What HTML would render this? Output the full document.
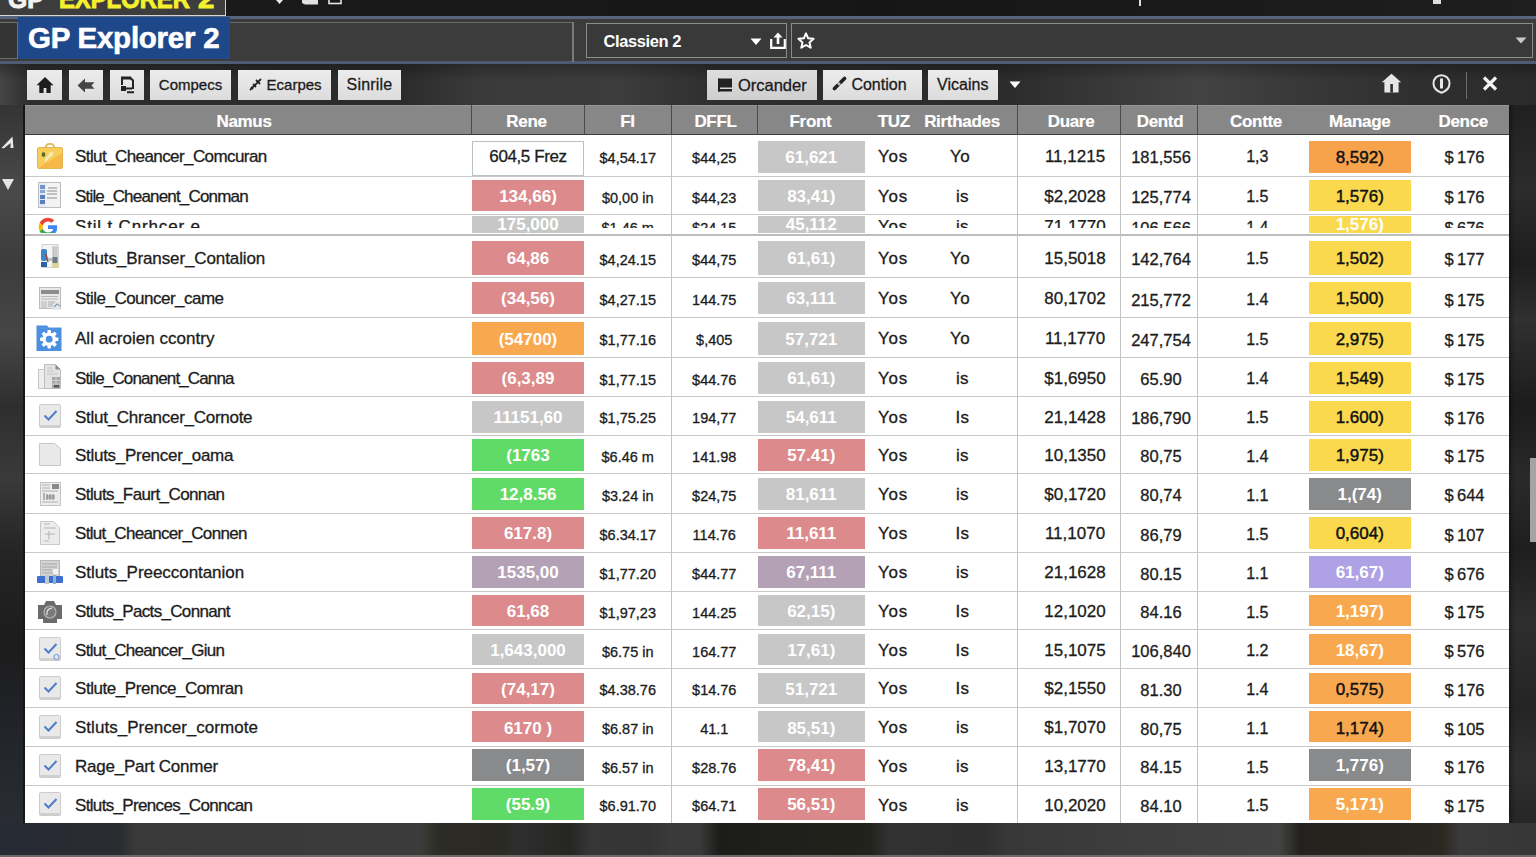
<!DOCTYPE html>
<html><head><meta charset="utf-8"><title>GP Explorer 2</title>
<style>
*{margin:0;padding:0;box-sizing:border-box}
html,body{width:1536px;height:857px;overflow:hidden;background:#262626;font-family:"Liberation Sans",sans-serif}
.a{position:absolute}
.tb{position:absolute;top:69.5px;height:30px;background:linear-gradient(#ececec,#dcdcdc);color:#1b1b1b;font-size:16px;line-height:30px;text-align:center;white-space:nowrap;-webkit-text-stroke:0.3px #1b1b1b}
.hd{position:absolute;left:25px;top:104.5px;width:1484px;height:30px;background:#878787;border-top:1px solid #969696;border-bottom:1px solid #3a3a3a}
.hc{position:absolute;height:22px;line-height:22px;color:#fff;font-weight:bold;font-size:17px;letter-spacing:-0.3px;-webkit-text-stroke:0.2px #fff;text-align:center;white-space:nowrap}
.vl{position:absolute;top:104.5px;width:1px;height:30px;background:#4a4a4a}
.rl{position:absolute;left:25px;width:1484px;height:1.2px;background:#c8c8c8}
.bl{position:absolute;width:1.3px;background:#c2c2c2}
.t{position:absolute;height:22px;line-height:22px;color:#1c1c1c;white-space:nowrap;text-align:center;-webkit-text-stroke:0.3px #1c1c1c}
.nm{font-size:17px;letter-spacing:-0.6px;text-align:left}
.blk{position:absolute;font-size:17px;font-weight:bold;color:#fff;text-align:center;white-space:nowrap}
</style></head><body>

<div class="a" style="left:0;top:0;width:1536px;height:857px;background:radial-gradient(ellipse 40px 90px at 8px 170px,rgba(120,120,120,.35),rgba(0,0,0,0)),radial-gradient(ellipse 50px 120px at 10px 330px,rgba(110,110,110,.35),rgba(0,0,0,0)),radial-gradient(ellipse 30px 140px at 1525px 300px,rgba(110,110,110,.3),rgba(0,0,0,0)),radial-gradient(ellipse 140px 30px at 330px 845px,rgba(60,60,40,.5),rgba(0,0,0,0)),radial-gradient(ellipse 120px 30px at 1100px 845px,rgba(90,90,90,.4),rgba(0,0,0,0)),linear-gradient(#202020,#2c2c2c)"></div>
<div class="a" style="left:0;top:822px;width:1536px;height:35px;background:linear-gradient(90deg,#262a34 0px,#2a2c30 120px,#393939 135px,#3b3b3b 420px,#2c2c24 440px,#2a2a22 500px,#2e2e2e 520px,#252522 570px,#363636 590px,#343434 650px,#3a3a3a 670px,#3a3a3a 700px,#1c1c1a 720px,#22221c 870px,#333 890px,#2e2e2e 980px,#383838 1010px,#3e3e3e 1150px,#424242 1280px,#24221e 1300px,#2a2620 1440px,#3a3a3a 1460px,#363636 1536px)"></div>
<div class="a" style="left:0;top:855px;width:1536px;height:2px;background:#6a6a6a"></div>
<div class="a" style="left:1509px;top:105px;width:27px;height:718px;background:linear-gradient(90deg,rgba(0,0,0,.35),rgba(0,0,0,0) 6px),linear-gradient(#202020,#2c2c2c 12%,#1e1e1e 22%,#303030 30%,#1c1c1c 42%,#2a2a2a 52%,#1e1e1e 62%,#2e2e2e 72%,#242424 84%,#303030 92%,#262626)"></div>
<div class="a" style="left:1530px;top:458px;width:6px;height:84px;background:#a4a4a4"></div>
<div class="a" style="left:0;top:105px;width:25px;height:718px;background:linear-gradient(#343434,#4a4a4a 12%,#3c3c3c 22%,#464646 32%,#2e2e2e 42%,#3a3a3a 52%,#252525 62%,#1c1c1c 75%,#24262e 90%,#2a2c34)"></div>
<svg class="a" style="left:0;top:135px" width="16" height="15" viewBox="0 0 16 15"><path d="M1.5 13 L12.5 1.5 L13.5 13 L10.5 13 L10.6 8 L4 13.3 Z" fill="#e8e8e8"/></svg>
<div class="a" style="left:23px;top:105px;width:2px;height:718px;background:#161616"></div>
<svg class="a" style="left:2px;top:179px" width="12" height="11" viewBox="0 0 12 11"><path d="M0 0h12l-6 11z" fill="#e4e4e4"/></svg>
<div class="a" style="left:226px;top:0;width:1310px;height:16px;background:linear-gradient(90deg,#1a1a1a,#161616 50%,#1e1e1e)"></div>
<div class="a" style="left:0;top:0;width:226px;height:16px;background:#3d3d3d;border-right:1.5px solid #d0d0d0;border-bottom:1.5px solid #d6d6d6;overflow:hidden"><div class="a" style="left:8px;top:-16.5px;font-size:26px;font-weight:bold;color:#f2f2f2;-webkit-text-stroke:1px #f2f2f2;transform:scaleX(0.95);transform-origin:0 0">GP</div><div class="a" style="left:59px;top:-16.5px;font-size:26px;font-weight:bold;color:#f4f02c;-webkit-text-stroke:1px #f4f02c;transform:scaleX(0.915);transform-origin:0 0;white-space:nowrap">EXPLORER</div><div class="a" style="left:197.5px;top:-16.5px;font-size:26px;font-weight:bold;color:#f4f02c;-webkit-text-stroke:1px #f4f02c;transform:scaleX(1.12);transform-origin:0 0;white-space:nowrap">2</div></div>
<svg class="a" style="left:272px;top:0" width="72" height="8"><path d="M4 0 l3.5 4 l3.5 -4" fill="#e6e6e6"/><path d="M30 0h16v4.5h-13l-3-1.5z" fill="#e0e0e0"/><rect x="57" y="-1" width="12" height="4.5" fill="none" stroke="#e6e6e6" stroke-width="1.6"/></svg>
<div class="a" style="left:1139px;top:0;width:2px;height:6px;background:#ddd"></div>
<div class="a" style="left:1433px;top:0;width:8px;height:4px;background:#ddd"></div>
<div class="a" style="left:0;top:16px;width:1536px;height:48px;background:#3c3c3c;border-top:3px solid #56657b;border-bottom:3px solid #4d5c73"></div>
<div class="a" style="left:230px;top:21.5px;width:343px;height:1.5px;background:#6a6a6a"></div>
<div class="a" style="left:572px;top:21.5px;width:1.5px;height:40px;background:#7a7a7a"></div>
<div class="a" style="left:0;top:22px;width:18px;height:37px;border:1.5px solid #6e6e6e;border-left:none;background:#333"></div>
<div class="a" style="left:18px;top:17px;width:212px;height:42px;background:#1e4889"></div>
<div class="a" style="left:28px;top:16.750249999999998px;height:42px;line-height:42px;font-size:29.5px;font-weight:bold;color:#fff;letter-spacing:-0.25px;-webkit-text-stroke:0.6px #fff;white-space:nowrap">GP Explorer 2</div>
<div class="a" style="left:585.5px;top:23px;width:201px;height:35px;border:1.5px solid #8c8c8c;background:#393939"></div>
<div class="a" style="left:603.5px;top:26.246750000000002px;height:30px;line-height:30px;font-size:16.5px;font-weight:bold;color:#fff;letter-spacing:-0.4px">Classien 2</div>
<svg class="a" style="left:750px;top:38px" width="12" height="8"><path d="M0.5 0.5h11l-5.5 6.5z" fill="#fff"/></svg>
<svg class="a" style="left:769px;top:31px" width="18" height="18" viewBox="0 0 18 18"><path d="M2.2 8v8.8h13.6V8" fill="none" stroke="#fff" stroke-width="2.2"/><path d="M9 13V4" stroke="#fff" stroke-width="2.6"/><path d="M4.5 6.5L9 1.5l4.5 5z" fill="#fff"/></svg>
<div class="a" style="left:790.5px;top:23px;width:742px;height:35px;border:1.5px solid #8c8c8c;background:#393939"></div>
<svg class="a" style="left:797px;top:32px" width="18" height="17" viewBox="0 0 18 17"><path d="M9 1.3l2.2 5 5.4.5-4.1 3.6 1.2 5.3L9 13 4.3 15.7l1.2-5.3L1.4 6.8l5.4-.5z" fill="none" stroke="#fff" stroke-width="2" stroke-linejoin="round"/></svg>
<svg class="a" style="left:1515px;top:37px" width="12" height="8"><path d="M0.5 0.5h11l-5.5 6z" fill="#c8c8c8"/></svg>
<div class="a" style="left:0;top:64px;width:1536px;height:41px;background:linear-gradient(rgba(0,0,0,.25),rgba(0,0,0,0) 40%),linear-gradient(90deg,#454545 0,#2e2e2e 30px,#2b2b2b 400px,#3a3a3a 480px,#3c3c3c 620px,#2e2e2e 720px,#2b2b2b 1000px,#3a3a3a 1120px,#434343 1200px,#383838 1300px,#2f2f2f 1420px,#2b2b2b 1536px)"></div>
<div class="tb" style="left:27px;width:35px;"><svg class="a" style="left:9px;top:6px" width="18" height="18" viewBox="0 0 18 18"><path d="M9 1L0.5 9.2h2.8V17h4.3v-5h2.8v5h4.3V9.2h2.8z" fill="#1e1e1e"/></svg></div>
<div class="tb" style="left:69px;width:34px;"><svg class="a" style="left:8px;top:8px" width="18" height="15" viewBox="0 0 18 15"><path d="M0.5 7.5L8 0.5v3.8h9.5l-3 3.2 3 3.2H8v3.8z" fill="#454545"/></svg></div>
<div class="tb" style="left:110px;width:33.5px;"><svg class="a" style="left:10px;top:6px" width="15" height="18" viewBox="0 0 15 18"><path d="M2 9V2h8.5l2.5 2.5V13" fill="none" stroke="#222" stroke-width="2"/><path d="M1 2h10" stroke="#222" stroke-width="3"/><rect x="1" y="10" width="5" height="5" fill="#222"/><path d="M6 12.5h6M7 16.3h7" stroke="#222" stroke-width="2"/></svg></div>
<div class="tb" style="left:150px;width:81px;font-size:15px">Compecs</div>
<div class="tb" style="left:238px;width:93px;font-size:15px;padding-left:2px"><svg style="vertical-align:-1px" width="13" height="13" viewBox="0 0 13 13"><path d="M1 12L12 1M4 6l3 3M7 2l4 4M2 9l2 2" stroke="#222" stroke-width="1.8"/></svg>&nbsp;Ecarpes</div>
<div class="tb" style="left:338px;width:63px;letter-spacing:0.2px">Sinrile</div>
<div class="tb" style="left:707px;width:110px;background:linear-gradient(#dedede,#cfcfcf);font-size:16.5px"><svg style="vertical-align:-1px" width="16" height="14" viewBox="0 0 16 14"><rect x="2" y="0.5" width="13" height="9" fill="#222"/><rect x="1" y="11" width="14" height="2.5" fill="#222"/><rect x="1" y="0.5" width="2" height="13" fill="#222"/></svg>&nbsp;Orcander</div>
<div class="tb" style="left:823px;width:98.5px;padding-right:6px"><svg style="vertical-align:-1px" width="15" height="15" viewBox="0 0 15 15"><path d="M2.5 12.5l3.2-3.2" stroke="#222" stroke-width="3.6" stroke-linecap="round"/><path d="M8.5 6.5l4-4" stroke="#222" stroke-width="3.6" stroke-linecap="round"/><path d="M6 9l2.2-2.2" stroke="#bbb" stroke-width="1.5"/></svg>&nbsp;Contion</div>
<div class="tb" style="left:928px;width:69.5px;">Vicains</div>
<svg class="a" style="left:1009px;top:81px" width="12" height="8"><path d="M0.5 0.5h11l-5.5 6.5z" fill="#fff"/></svg>
<svg class="a" style="left:1381px;top:73px" width="21" height="20" viewBox="0 0 21 20"><path d="M10.5 0.8L0.8 9.3h2.6V19.5h14.2V9.3h2.6z" fill="#e6e6e6"/><rect x="9.3" y="11" width="2.6" height="8.5" fill="#2e2e2e"/></svg>
<svg class="a" style="left:1432px;top:74px" width="19" height="20" viewBox="0 0 19 20"><path d="M9.5 1.2 C14 1.2 17.5 4.7 17.5 9.5 C17.5 14 14.5 17 9.5 18.8 C4.5 17 1.5 14 1.5 9.5 C1.5 4.7 5 1.2 9.5 1.2z" fill="none" stroke="#e6e6e6" stroke-width="2"/><rect x="8" y="4.5" width="3" height="10" fill="#e6e6e6"/></svg>
<div class="a" style="left:1465.5px;top:72px;width:1.5px;height:27px;background:#6e6e6e"></div>
<svg class="a" style="left:1482px;top:76px" width="16" height="15" viewBox="0 0 16 15"><path d="M2 1.5l12 12M14 1.5L2 13.5" stroke="#f2f2f2" stroke-width="3.2"/></svg>
<div class="hd"></div>
<div class="hc" style="left:184px;width:120px;top:110.5815px">Namus</div>
<div class="hc" style="left:466.5px;width:120px;top:110.5815px">Rene</div>
<div class="hc" style="left:567.5px;width:120px;top:110.5815px">FI</div>
<div class="hc" style="left:655.5px;width:120px;top:110.5815px">DFFL</div>
<div class="hc" style="left:750.5px;width:120px;top:110.5815px">Front</div>
<div class="hc" style="left:833.8px;width:120px;top:110.5815px">TUZ</div>
<div class="hc" style="left:902px;width:120px;top:110.5815px">Rirthades</div>
<div class="hc" style="left:1011px;width:120px;top:110.5815px">Duare</div>
<div class="hc" style="left:1100px;width:120px;top:110.5815px">Dentd</div>
<div class="hc" style="left:1196px;width:120px;top:110.5815px">Contte</div>
<div class="hc" style="left:1299.7px;width:120px;top:110.5815px">Manage</div>
<div class="hc" style="left:1403.2px;width:120px;top:110.5815px">Dence</div>
<div class="vl" style="left:471.0px"></div>
<div class="vl" style="left:584.0px"></div>
<div class="vl" style="left:671.0px"></div>
<div class="vl" style="left:756.5px"></div>
<div class="vl" style="left:1017.0px"></div>
<div class="vl" style="left:1120.0px"></div>
<div class="vl" style="left:1197.0px"></div>
<div class="a" style="left:25px;top:135px;width:1484px;height:688px;background:#fff"></div>
<div class="rl" style="top:175.5px"></div>
<div class="rl" style="top:213.5px"></div>
<div class="rl" style="top:233.5px;height:2px;background:#bdbdbd"></div>
<div class="rl" style="top:277.2px"></div>
<div class="rl" style="top:317.2px"></div>
<div class="rl" style="top:357.0px"></div>
<div class="rl" style="top:395.8px"></div>
<div class="rl" style="top:434.7px"></div>
<div class="rl" style="top:473.2px"></div>
<div class="rl" style="top:512.8px"></div>
<div class="rl" style="top:551.6px"></div>
<div class="rl" style="top:590.8px"></div>
<div class="rl" style="top:629.2px"></div>
<div class="rl" style="top:667.7px"></div>
<div class="rl" style="top:706.7px"></div>
<div class="rl" style="top:745.5px"></div>
<div class="rl" style="top:784.5px"></div>
<div class="bl" style="left:671.0px;top:135px;height:688px"></div>
<div class="bl" style="left:1017.0px;top:135px;height:688px"></div>
<div class="bl" style="left:1120.0px;top:135px;height:688px"></div>
<div class="bl" style="left:1197.0px;top:135px;height:688px"></div>
<div class="a" style="left:35.5px;top:141.25px;width:28px;height:28px"><svg width="28" height="28" viewBox="0 0 28 28"><g transform="translate(0 1)"><path d="M9.5 6.5 Q9.5 1.8 14 1.8 Q18.5 1.8 18.5 6.5" fill="none" stroke="#e0bc5a" stroke-width="1.8"/><rect x="1.5" y="5.5" width="25" height="21" rx="1.5" fill="#f8cd5c" stroke="#e2b452" stroke-width="1"/><path d="M2 26 L26 11 V26 Z" fill="#f5b849"/><ellipse cx="7.5" cy="12.5" rx="1.8" ry="2.6" fill="#5d6b2e"/><path d="M9 19 L17 10 M13 11 l3 3 M10 15 l1.5 1" stroke="#f0eebb" stroke-width="2"/></g></svg></div>
<div class="t nm" style="left:75px;width:385px;top:146.03px;font-size:17px;letter-spacing:-0.582px">Stlut_Cheancer_Comcuran</div>
<div class="t" style="left:584.5px;width:86.5px;top:146.86px;font-size:14.5px;">$4,54.17</div>
<div class="t" style="left:671.5px;width:85.5px;top:146.86px;font-size:14.5px;">$44,25</div>
<div class="t" style="left:865px;width:56px;top:146.03px;font-size:17px;letter-spacing:0.8px">Yos</div>
<div class="t" style="left:922.5px;width:75.0px;top:146.03px;font-size:17px;letter-spacing:0.3px">Yo</div>
<div class="t" style="left:1020px;width:110px;top:146.03px;font-size:17px;">11,1215</div>
<div class="t" style="left:1122.5px;width:77.0px;top:146.20px;font-size:16.5px;">181,556</div>
<div class="t" style="left:1197.5px;width:119.5px;top:146.36px;font-size:16px;">1,3</div>
<div class="t" style="left:1411px;width:107px;top:146.20px;font-size:16.5px;">$&#8201;176</div>
<div class="a" style="left:472px;top:140.5px;width:112px;height:35.5px;border:1px solid #b7c3c7;background:#fff"></div>
<div class="t" style="left:472px;width:112px;top:146.03px;font-size:17px;letter-spacing:-0.4px">604,5 Frez</div>
<div class="blk" style="left:758px;top:141px;width:106.5px;height:31.50px;background:#c7c7c7;color:#fff;line-height:31.50px;overflow:hidden;"><span style="position:relative;top:1.2px">61,621</span></div>
<div class="blk" style="left:1308.5px;top:141px;width:102.5px;height:31.50px;background:#f6a34c;color:#111;line-height:31.50px;overflow:hidden;font-weight:normal;-webkit-text-stroke:0.45px #111;"><span style="position:relative;top:1.2px">8,592)</span></div>
<div class="a" style="left:35.5px;top:181.00px;width:28px;height:28px"><svg width="28" height="28" viewBox="0 0 28 28"><rect x="2.5" y="1.5" width="22" height="25" fill="#f3f3f3" stroke="#bdbdbd"/><rect x="3.5" y="2.5" width="6" height="23" fill="#dde8f4"/><rect x="4" y="4" width="5" height="4" fill="#6f97cc"/><rect x="4" y="9" width="5" height="3" fill="#8aa8d4"/><rect x="4" y="14" width="5" height="4" fill="#5a82bf"/><rect x="4" y="19" width="5" height="4" fill="#5a82bf"/><path d="M12 7h9M11 10h10M11 13h10M11 17h10" stroke="#8e8e8e" stroke-width="1.2"/></svg></div>
<div class="t nm" style="left:75px;width:385px;top:185.78px;font-size:17px;letter-spacing:-0.815px">Stile_Cheanent_Conman</div>
<div class="t" style="left:584.5px;width:86.5px;top:186.61px;font-size:14.5px;">$0,00 in</div>
<div class="t" style="left:671.5px;width:85.5px;top:186.61px;font-size:14.5px;">$44,23</div>
<div class="t" style="left:865px;width:56px;top:185.78px;font-size:17px;letter-spacing:0.8px">Yos</div>
<div class="t" style="left:925px;width:75px;top:185.78px;font-size:17px;letter-spacing:0.3px">is</div>
<div class="t" style="left:1020px;width:110px;top:185.78px;font-size:17px;">$2,2028</div>
<div class="t" style="left:1122.5px;width:77.0px;top:185.95px;font-size:16.5px;">125,774</div>
<div class="t" style="left:1197.5px;width:119.5px;top:186.11px;font-size:16px;">1.5</div>
<div class="t" style="left:1411px;width:107px;top:185.95px;font-size:16.5px;">$&#8201;176</div>
<div class="blk" style="left:472px;top:179.6px;width:112px;height:31.50px;background:#dc8a8c;color:#fff;line-height:31.50px;overflow:hidden;"><span style="position:relative;top:1.2px">134,66)</span></div>
<div class="blk" style="left:758px;top:179.6px;width:106.5px;height:31.50px;background:#c7c7c7;color:#fff;line-height:31.50px;overflow:hidden;"><span style="position:relative;top:1.2px">83,41)</span></div>
<div class="blk" style="left:1308.5px;top:179.6px;width:102.5px;height:31.50px;background:#fad94e;color:#111;line-height:31.50px;overflow:hidden;font-weight:normal;-webkit-text-stroke:0.45px #111;"><span style="position:relative;top:1.2px">1,576)</span></div>
<div class="a" style="left:0;top:220px;width:1536px;height:7.5px;overflow:hidden"><div class="a" style="left:0;top:-220px;width:1536px;height:300px">
<div class="t nm" style="left:75px;width:385px;top:216.38px;font-size:17px;letter-spacing:0.833px">Stil t Cnrhcer e</div>
<div class="t" style="left:584.5px;width:86.5px;top:217.21px;font-size:14.5px;">$1.46 m</div>
<div class="t" style="left:671.5px;width:85.5px;top:217.21px;font-size:14.5px;">$24.15</div>
<div class="t" style="left:865px;width:56px;top:216.38px;font-size:17px;letter-spacing:0.8px">Yos</div>
<div class="t" style="left:925px;width:75px;top:216.38px;font-size:17px;letter-spacing:0.3px">is</div>
<div class="t" style="left:1020px;width:110px;top:216.38px;font-size:17px;">71,1770</div>
<div class="t" style="left:1122.5px;width:77.0px;top:216.55px;font-size:16.5px;">106,566</div>
<div class="t" style="left:1197.5px;width:119.5px;top:216.71px;font-size:16px;">1.4</div>
<div class="t" style="left:1411px;width:107px;top:216.55px;font-size:16.5px;">$&#8201;676</div>
</div></div>
<div class="a" style="left:37px;top:216px;width:24px;height:16.5px;overflow:hidden"><svg width="22" height="22" viewBox="0 0 24 24"><path d="M22 12.2c0-.8-.1-1.4-.2-2.1H12v4h5.6a4.8 4.8 0 0 1-2.1 3.2v2.6h3.4A10 10 0 0 0 22 12.2z" fill="#4285f4"/><path d="M12 22c2.7 0 5-.9 6.9-2.5l-3.4-2.6c-.9.6-2.1 1-3.5 1-2.6 0-4.8-1.8-5.6-4.1H3v2.7A10 10 0 0 0 12 22z" fill="#34a853"/><path d="M6.4 13.8a6 6 0 0 1 0-3.8V7.3H3a10 10 0 0 0 0 9.2l3.4-2.7z" fill="#fbbc05"/><path d="M12 6c1.5 0 2.8.5 3.8 1.5l2.9-2.9A10 10 0 0 0 3 7.3L6.4 10c.8-2.3 3-4 5.6-4z" fill="#ea4335"/></svg></div>
<div class="blk" style="left:472px;top:216.2px;width:112px;height:16.80px;background:#c7c7c7;color:#fff;line-height:16.80px;overflow:hidden;"><span style="position:relative;top:1.2px">175,000</span></div>
<div class="blk" style="left:758px;top:216.2px;width:106.5px;height:16.80px;background:#c7c7c7;color:#fff;line-height:16.80px;overflow:hidden;"><span style="position:relative;top:1.2px">45,112</span></div>
<div class="blk" style="left:1308.5px;top:216.2px;width:102.5px;height:16.80px;background:#fad94e;color:#fff;line-height:16.80px;overflow:hidden;"><span style="position:relative;top:1.2px">1,576)</span></div>
<div class="a" style="left:35.5px;top:242.10px;width:28px;height:28px"><svg width="28" height="28" viewBox="0 0 28 28"><rect x="6" y="2.5" width="16" height="23" fill="#f4f4f4" stroke="#cfcfcf"/><rect x="16" y="4" width="7" height="22" fill="#d6d6d6"/><path d="M17.5 5v10M20 5v10" stroke="#bbb"/><rect x="5" y="7" width="6" height="12" rx="2" fill="#3f86c8"/><path d="M10 12 L12 20" stroke="#9b4a3a" stroke-width="1.5"/><rect x="5" y="20" width="6" height="5" fill="#2f5ea8"/><rect x="12" y="16" width="4" height="3" fill="#bdbdbd"/><rect x="16.5" y="15" width="5" height="6" fill="#6d7a82"/><rect x="16" y="21" width="7" height="5" fill="#d8d4a0"/></svg></div>
<div class="t nm" style="left:75px;width:385px;top:248.08px;font-size:17px;letter-spacing:-0.109px">Stluts_Branser_Contalion</div>
<div class="t" style="left:584.5px;width:86.5px;top:248.91px;font-size:14.5px;">$4,24.15</div>
<div class="t" style="left:671.5px;width:85.5px;top:248.91px;font-size:14.5px;">$44,75</div>
<div class="t" style="left:865px;width:56px;top:248.08px;font-size:17px;letter-spacing:0.8px">Yos</div>
<div class="t" style="left:922.5px;width:75.0px;top:248.08px;font-size:17px;letter-spacing:0.3px">Yo</div>
<div class="t" style="left:1020px;width:110px;top:248.08px;font-size:17px;">15,5018</div>
<div class="t" style="left:1122.5px;width:77.0px;top:248.25px;font-size:16.5px;">142,764</div>
<div class="t" style="left:1197.5px;width:119.5px;top:248.41px;font-size:16px;">1.5</div>
<div class="t" style="left:1411px;width:107px;top:248.25px;font-size:16.5px;">$&#8201;177</div>
<div class="blk" style="left:472px;top:240.9px;width:112px;height:33.70px;background:#dc8a8c;color:#fff;line-height:33.70px;overflow:hidden;"><span style="position:relative;top:1.2px">64,86</span></div>
<div class="blk" style="left:758px;top:240.9px;width:106.5px;height:33.70px;background:#c7c7c7;color:#fff;line-height:33.70px;overflow:hidden;"><span style="position:relative;top:1.2px">61,61)</span></div>
<div class="blk" style="left:1308.5px;top:240.9px;width:102.5px;height:33.70px;background:#fad94e;color:#111;line-height:33.70px;overflow:hidden;font-weight:normal;-webkit-text-stroke:0.45px #111;"><span style="position:relative;top:1.2px">1,502)</span></div>
<div class="a" style="left:35.5px;top:283.70px;width:28px;height:28px"><svg width="28" height="28" viewBox="0 0 28 28"><rect x="3.5" y="3.5" width="21" height="21" fill="#e9e9e9" stroke="#bcbcbc"/><rect x="5" y="6" width="18" height="4" fill="#8c8c8c"/><path d="M5 12.5h17M5 15h17" stroke="#b8b8b8" stroke-width="1.2"/><rect x="5" y="17" width="6" height="7" fill="#cfcfcf"/><path d="M12 18h7M12 20h7M12 22h5" stroke="#aaa"/><path d="M17 20 L24 17 L24 26 L16 26z" fill="#e2e8ec"/><path d="M18 23 l3 -3 l3 2" stroke="#8aa0b0" fill="none" stroke-width="1.3"/></svg></div>
<div class="t nm" style="left:75px;width:385px;top:288.48px;font-size:17px;letter-spacing:-0.518px">Stile_Councer_came</div>
<div class="t" style="left:584.5px;width:86.5px;top:289.31px;font-size:14.5px;">$4,27.15</div>
<div class="t" style="left:671.5px;width:85.5px;top:289.31px;font-size:14.5px;">144.75</div>
<div class="t" style="left:865px;width:56px;top:288.48px;font-size:17px;letter-spacing:0.8px">Yos</div>
<div class="t" style="left:922.5px;width:75.0px;top:288.48px;font-size:17px;letter-spacing:0.3px">Yo</div>
<div class="t" style="left:1020px;width:110px;top:288.48px;font-size:17px;">80,1702</div>
<div class="t" style="left:1122.5px;width:77.0px;top:288.65px;font-size:16.5px;">215,772</div>
<div class="t" style="left:1197.5px;width:119.5px;top:288.81px;font-size:16px;">1.4</div>
<div class="t" style="left:1411px;width:107px;top:288.65px;font-size:16.5px;">$&#8201;175</div>
<div class="blk" style="left:472px;top:282px;width:112px;height:32.30px;background:#dc8a8c;color:#fff;line-height:32.30px;overflow:hidden;"><span style="position:relative;top:1.2px">(34,56)</span></div>
<div class="blk" style="left:758px;top:282px;width:106.5px;height:32.30px;background:#c7c7c7;color:#fff;line-height:32.30px;overflow:hidden;"><span style="position:relative;top:1.2px">63,111</span></div>
<div class="blk" style="left:1308.5px;top:282px;width:102.5px;height:32.30px;background:#fad94e;color:#111;line-height:32.30px;overflow:hidden;font-weight:normal;-webkit-text-stroke:0.45px #111;"><span style="position:relative;top:1.2px">1,500)</span></div>
<div class="a" style="left:35.5px;top:323.60px;width:28px;height:28px"><svg width="28" height="28" viewBox="0 0 28 28"><path d="M0.5 1.5h10.5l2 2.5H25.5v23H0.5z" fill="#4b8fe1"/><path d="M0.5 4h25" stroke="#5a9ae6" stroke-width="1"/><rect x="11.4" y="6" width="3.6" height="4" rx="0.8" fill="#fff" transform="rotate(0 13.2 15.2)"/><rect x="11.4" y="6" width="3.6" height="4" rx="0.8" fill="#fff" transform="rotate(45 13.2 15.2)"/><rect x="11.4" y="6" width="3.6" height="4" rx="0.8" fill="#fff" transform="rotate(90 13.2 15.2)"/><rect x="11.4" y="6" width="3.6" height="4" rx="0.8" fill="#fff" transform="rotate(135 13.2 15.2)"/><rect x="11.4" y="6" width="3.6" height="4" rx="0.8" fill="#fff" transform="rotate(180 13.2 15.2)"/><rect x="11.4" y="6" width="3.6" height="4" rx="0.8" fill="#fff" transform="rotate(225 13.2 15.2)"/><rect x="11.4" y="6" width="3.6" height="4" rx="0.8" fill="#fff" transform="rotate(270 13.2 15.2)"/><rect x="11.4" y="6" width="3.6" height="4" rx="0.8" fill="#fff" transform="rotate(315 13.2 15.2)"/><circle cx="13.2" cy="15.2" r="6.8" fill="#fff"/><circle cx="13.2" cy="15.2" r="3.4" fill="#4b8fe1"/></svg></div>
<div class="t nm" style="left:75px;width:385px;top:328.38px;font-size:17px;letter-spacing:0.028px">All acroien ccontry</div>
<div class="t" style="left:584.5px;width:86.5px;top:329.21px;font-size:14.5px;">$1,77.16</div>
<div class="t" style="left:671.5px;width:85.5px;top:329.21px;font-size:14.5px;">$,405</div>
<div class="t" style="left:865px;width:56px;top:328.38px;font-size:17px;letter-spacing:0.8px">Yos</div>
<div class="t" style="left:922.5px;width:75.0px;top:328.38px;font-size:17px;letter-spacing:0.3px">Yo</div>
<div class="t" style="left:1020px;width:110px;top:328.38px;font-size:17px;">11,1770</div>
<div class="t" style="left:1122.5px;width:77.0px;top:328.55px;font-size:16.5px;">247,754</div>
<div class="t" style="left:1197.5px;width:119.5px;top:328.71px;font-size:16px;">1.5</div>
<div class="t" style="left:1411px;width:107px;top:328.55px;font-size:16.5px;">$&#8201;175</div>
<div class="blk" style="left:472px;top:321.6px;width:112px;height:33.30px;background:#f8a84e;color:#fff;line-height:33.30px;overflow:hidden;"><span style="position:relative;top:1.2px">(54700)</span></div>
<div class="blk" style="left:758px;top:321.6px;width:106.5px;height:33.30px;background:#c7c7c7;color:#fff;line-height:33.30px;overflow:hidden;"><span style="position:relative;top:1.2px">57,721</span></div>
<div class="blk" style="left:1308.5px;top:321.6px;width:102.5px;height:33.30px;background:#fad94e;color:#111;line-height:33.30px;overflow:hidden;font-weight:normal;-webkit-text-stroke:0.45px #111;"><span style="position:relative;top:1.2px">2,975)</span></div>
<div class="a" style="left:35.5px;top:362.90px;width:28px;height:28px"><svg width="28" height="28" viewBox="0 0 28 28"><rect x="2.5" y="6.5" width="15" height="19" fill="#eeeeee" stroke="#c6c6c6"/><path d="M8.5 1.5h11l5 5v19h-16z" fill="#e4e4e4" stroke="#bdbdbd"/><path d="M19.5 1.5v5h5z" fill="#8e8e8e"/><path d="M11 5h6M11 8h7M11 11h11" stroke="#c4c4c4" stroke-width="1"/><rect x="16" y="14" width="8" height="11" fill="#a6a6a6"/><path d="M16 17.5h8M16 21h8M20 14v11" stroke="#dcdcdc" stroke-width="0.8"/><rect x="18" y="22" width="5" height="2.5" fill="#555"/></svg></div>
<div class="t nm" style="left:75px;width:385px;top:367.68px;font-size:17px;letter-spacing:-0.858px">Stile_Conanent_Canna</div>
<div class="t" style="left:584.5px;width:86.5px;top:368.51px;font-size:14.5px;">$1,77.15</div>
<div class="t" style="left:671.5px;width:85.5px;top:368.51px;font-size:14.5px;">$44.76</div>
<div class="t" style="left:865px;width:56px;top:367.68px;font-size:17px;letter-spacing:0.8px">Yos</div>
<div class="t" style="left:925px;width:75px;top:367.68px;font-size:17px;letter-spacing:0.3px">is</div>
<div class="t" style="left:1020px;width:110px;top:367.68px;font-size:17px;">$1,6950</div>
<div class="t" style="left:1122.5px;width:77.0px;top:367.85px;font-size:16.5px;">65.90</div>
<div class="t" style="left:1197.5px;width:119.5px;top:368.01px;font-size:16px;">1.4</div>
<div class="t" style="left:1411px;width:107px;top:367.85px;font-size:16.5px;">$&#8201;175</div>
<div class="blk" style="left:472px;top:361.5px;width:112px;height:32.30px;background:#dc8a8c;color:#fff;line-height:32.30px;overflow:hidden;"><span style="position:relative;top:1.2px">(6,3,89</span></div>
<div class="blk" style="left:758px;top:361.5px;width:106.5px;height:32.30px;background:#c7c7c7;color:#fff;line-height:32.30px;overflow:hidden;"><span style="position:relative;top:1.2px">61,61)</span></div>
<div class="blk" style="left:1308.5px;top:361.5px;width:102.5px;height:32.30px;background:#fad94e;color:#111;line-height:32.30px;overflow:hidden;font-weight:normal;-webkit-text-stroke:0.45px #111;"><span style="position:relative;top:1.2px">1,549)</span></div>
<div class="a" style="left:35.5px;top:401.75px;width:28px;height:28px"><svg width="28" height="28" viewBox="0 0 28 28"><rect x="3.5" y="2.5" width="21" height="23" rx="1" fill="#e9e9e9" stroke="#cccccc"/><rect x="4" y="23" width="20" height="2" fill="#d0d0d0"/><path d="M8.5 13.5 l4 4 L20.5 9" fill="none" stroke="#4d7ecb" stroke-width="2"/></svg></div>
<div class="t nm" style="left:75px;width:385px;top:406.53px;font-size:17px;letter-spacing:-0.276px">Stlut_Chrancer_Cornote</div>
<div class="t" style="left:584.5px;width:86.5px;top:407.36px;font-size:14.5px;">$1,75.25</div>
<div class="t" style="left:671.5px;width:85.5px;top:407.36px;font-size:14.5px;">194,77</div>
<div class="t" style="left:865px;width:56px;top:406.53px;font-size:17px;letter-spacing:0.8px">Yos</div>
<div class="t" style="left:925px;width:75px;top:406.53px;font-size:17px;letter-spacing:0.3px">Is</div>
<div class="t" style="left:1020px;width:110px;top:406.53px;font-size:17px;">21,1428</div>
<div class="t" style="left:1122.5px;width:77.0px;top:406.70px;font-size:16.5px;">186,790</div>
<div class="t" style="left:1197.5px;width:119.5px;top:406.86px;font-size:16px;">1.5</div>
<div class="t" style="left:1411px;width:107px;top:406.70px;font-size:16.5px;">$&#8201;176</div>
<div class="blk" style="left:472px;top:400.6px;width:112px;height:32.10px;background:#c7c7c7;color:#fff;line-height:32.10px;overflow:hidden;"><span style="position:relative;top:1.2px">11151,60</span></div>
<div class="blk" style="left:758px;top:400.6px;width:106.5px;height:32.10px;background:#c7c7c7;color:#fff;line-height:32.10px;overflow:hidden;"><span style="position:relative;top:1.2px">54,611</span></div>
<div class="blk" style="left:1308.5px;top:400.6px;width:102.5px;height:32.10px;background:#fad94e;color:#111;line-height:32.10px;overflow:hidden;font-weight:normal;-webkit-text-stroke:0.45px #111;"><span style="position:relative;top:1.2px">1.600)</span></div>
<div class="a" style="left:35.5px;top:440.45px;width:28px;height:28px"><svg width="28" height="28" viewBox="0 0 28 28"><path d="M3.5 3.5h15l6 5v17h-21z" fill="#e9e9e9" stroke="#c8c8c8"/></svg></div>
<div class="t nm" style="left:75px;width:385px;top:445.23px;font-size:17px;letter-spacing:-0.283px">Stluts_Prencer_oama</div>
<div class="t" style="left:584.5px;width:86.5px;top:446.06px;font-size:14.5px;">$6.46 m</div>
<div class="t" style="left:671.5px;width:85.5px;top:446.06px;font-size:14.5px;">141.98</div>
<div class="t" style="left:865px;width:56px;top:445.23px;font-size:17px;letter-spacing:0.8px">Yos</div>
<div class="t" style="left:925px;width:75px;top:445.23px;font-size:17px;letter-spacing:0.3px">is</div>
<div class="t" style="left:1020px;width:110px;top:445.23px;font-size:17px;">10,1350</div>
<div class="t" style="left:1122.5px;width:77.0px;top:445.40px;font-size:16.5px;">80,75</div>
<div class="t" style="left:1197.5px;width:119.5px;top:445.56px;font-size:16px;">1.4</div>
<div class="t" style="left:1411px;width:107px;top:445.40px;font-size:16.5px;">$&#8201;175</div>
<div class="blk" style="left:472px;top:438.8px;width:112px;height:32.10px;background:#61db68;color:#fff;line-height:32.10px;overflow:hidden;"><span style="position:relative;top:1.2px">(1763</span></div>
<div class="blk" style="left:758px;top:438.8px;width:106.5px;height:32.10px;background:#dc8a8c;color:#fff;line-height:32.10px;overflow:hidden;"><span style="position:relative;top:1.2px">57.41)</span></div>
<div class="blk" style="left:1308.5px;top:438.8px;width:102.5px;height:32.10px;background:#fad94e;color:#111;line-height:32.10px;overflow:hidden;font-weight:normal;-webkit-text-stroke:0.45px #111;"><span style="position:relative;top:1.2px">1,975)</span></div>
<div class="a" style="left:35.5px;top:479.50px;width:28px;height:28px"><svg width="28" height="28" viewBox="0 0 28 28"><rect x="4.5" y="2.5" width="20" height="23" fill="#ececec" stroke="#c4c4c4"/><rect x="16" y="4" width="7" height="5" fill="#8a8a8a"/><path d="M6 5h8M6 8h8M6 11h16" stroke="#b0b0b0" stroke-width="1.2"/><path d="M8 13v7M11 14v6M14 14v6M17 14v6M10 16h9M10 18h9" stroke="#8a8a8a" stroke-width="1.2"/><path d="M6 22h16" stroke="#bbb" stroke-width="1.2"/></svg></div>
<div class="t nm" style="left:75px;width:385px;top:484.28px;font-size:17px;letter-spacing:-0.589px">Stluts_Faurt_Connan</div>
<div class="t" style="left:584.5px;width:86.5px;top:485.11px;font-size:14.5px;">$3.24 in</div>
<div class="t" style="left:671.5px;width:85.5px;top:485.11px;font-size:14.5px;">$24,75</div>
<div class="t" style="left:865px;width:56px;top:484.28px;font-size:17px;letter-spacing:0.8px">Yos</div>
<div class="t" style="left:925px;width:75px;top:484.28px;font-size:17px;letter-spacing:0.3px">is</div>
<div class="t" style="left:1020px;width:110px;top:484.28px;font-size:17px;">$0,1720</div>
<div class="t" style="left:1122.5px;width:77.0px;top:484.45px;font-size:16.5px;">80,74</div>
<div class="t" style="left:1197.5px;width:119.5px;top:484.61px;font-size:16px;">1.1</div>
<div class="t" style="left:1411px;width:107px;top:484.45px;font-size:16.5px;">$&#8201;644</div>
<div class="blk" style="left:472px;top:478.2px;width:112px;height:31.80px;background:#61db68;color:#fff;line-height:31.80px;overflow:hidden;"><span style="position:relative;top:1.2px">12,8.56</span></div>
<div class="blk" style="left:758px;top:478.2px;width:106.5px;height:31.80px;background:#c7c7c7;color:#fff;line-height:31.80px;overflow:hidden;"><span style="position:relative;top:1.2px">81,611</span></div>
<div class="blk" style="left:1308.5px;top:478.2px;width:102.5px;height:31.80px;background:#898a8b;color:#fff;line-height:31.80px;overflow:hidden;"><span style="position:relative;top:1.2px">1,(74)</span></div>
<div class="a" style="left:35.5px;top:518.70px;width:28px;height:28px"><svg width="28" height="28" viewBox="0 0 28 28"><path d="M4.5 2.5h13l6 6v17h-19z" fill="#ececec" stroke="#c8c8c8"/><path d="M8 5h6M8 9h12M13 12v8M9 15h10M8 22h5" stroke="#b5b5b5" stroke-width="1.1"/></svg></div>
<div class="t nm" style="left:75px;width:385px;top:523.48px;font-size:17px;letter-spacing:-0.69px">Stlut_Cheancer_Connen</div>
<div class="t" style="left:584.5px;width:86.5px;top:524.31px;font-size:14.5px;">$6.34.17</div>
<div class="t" style="left:671.5px;width:85.5px;top:524.31px;font-size:14.5px;">114.76</div>
<div class="t" style="left:865px;width:56px;top:523.48px;font-size:17px;letter-spacing:0.8px">Yos</div>
<div class="t" style="left:925px;width:75px;top:523.48px;font-size:17px;letter-spacing:0.3px">Is</div>
<div class="t" style="left:1020px;width:110px;top:523.48px;font-size:17px;">11,1070</div>
<div class="t" style="left:1122.5px;width:77.0px;top:523.65px;font-size:16.5px;">86,79</div>
<div class="t" style="left:1197.5px;width:119.5px;top:523.81px;font-size:16px;">1.5</div>
<div class="t" style="left:1411px;width:107px;top:523.65px;font-size:16.5px;">$&#8201;107</div>
<div class="blk" style="left:472px;top:517.2px;width:112px;height:31.80px;background:#dc8a8c;color:#fff;line-height:31.80px;overflow:hidden;"><span style="position:relative;top:1.2px">617.8)</span></div>
<div class="blk" style="left:758px;top:517.2px;width:106.5px;height:31.80px;background:#dc8a8c;color:#fff;line-height:31.80px;overflow:hidden;"><span style="position:relative;top:1.2px">11,611</span></div>
<div class="blk" style="left:1308.5px;top:517.2px;width:102.5px;height:31.80px;background:#fad94e;color:#111;line-height:31.80px;overflow:hidden;font-weight:normal;-webkit-text-stroke:0.45px #111;"><span style="position:relative;top:1.2px">0,604)</span></div>
<div class="a" style="left:35.5px;top:557.70px;width:28px;height:28px"><svg width="28" height="28" viewBox="0 0 28 28"><rect x="4.5" y="2.5" width="19" height="20" fill="#d4d4d4" stroke="#b8b8b8"/><path d="M6 6h15M6 9h15M6 12h10M6 15h15" stroke="#a8a8a8" stroke-width="1.2"/><rect x="17" y="11" width="5" height="5" fill="#f4f4f4"/><rect x="1" y="18" width="26" height="7" rx="1" fill="#3f6fd0"/><rect x="9" y="17" width="4" height="9" fill="#c0c8d8"/><rect x="17" y="17" width="3" height="9" fill="#8fb0d0"/></svg></div>
<div class="t nm" style="left:75px;width:385px;top:562.48px;font-size:17px;letter-spacing:-0.05px">Stluts_Preeccontanion</div>
<div class="t" style="left:584.5px;width:86.5px;top:563.31px;font-size:14.5px;">$1,77.20</div>
<div class="t" style="left:671.5px;width:85.5px;top:563.31px;font-size:14.5px;">$44.77</div>
<div class="t" style="left:865px;width:56px;top:562.48px;font-size:17px;letter-spacing:0.8px">Yos</div>
<div class="t" style="left:925px;width:75px;top:562.48px;font-size:17px;letter-spacing:0.3px">is</div>
<div class="t" style="left:1020px;width:110px;top:562.48px;font-size:17px;">21,1628</div>
<div class="t" style="left:1122.5px;width:77.0px;top:562.65px;font-size:16.5px;">80.15</div>
<div class="t" style="left:1197.5px;width:119.5px;top:562.81px;font-size:16px;">1.1</div>
<div class="t" style="left:1411px;width:107px;top:562.65px;font-size:16.5px;">$&#8201;676</div>
<div class="blk" style="left:472px;top:556.2px;width:112px;height:32.10px;background:#b5a1b5;color:#fff;line-height:32.10px;overflow:hidden;"><span style="position:relative;top:1.2px">1535,00</span></div>
<div class="blk" style="left:758px;top:556.2px;width:106.5px;height:32.10px;background:#b5a1b5;color:#fff;line-height:32.10px;overflow:hidden;"><span style="position:relative;top:1.2px">67,111</span></div>
<div class="blk" style="left:1308.5px;top:556.2px;width:102.5px;height:32.10px;background:#aea1e5;color:#fff;line-height:32.10px;overflow:hidden;"><span style="position:relative;top:1.2px">61,67)</span></div>
<div class="a" style="left:35.5px;top:596.50px;width:28px;height:28px"><svg width="28" height="28" viewBox="0 0 28 28"><path d="M2 8h6l2-4h8l2 4h6v14h-5v4h-14v-4h-5z" fill="#6b6b6b"/><circle cx="14" cy="15" r="6" fill="#7a7a7a" stroke="#b5b5b5" stroke-width="1.2"/><path d="M11 18 Q10 12 16 11" fill="none" stroke="#d8d8d8" stroke-width="1.4"/></svg></div>
<div class="t nm" style="left:75px;width:385px;top:601.28px;font-size:17px;letter-spacing:-0.668px">Stluts_Pacts_Connant</div>
<div class="t" style="left:584.5px;width:86.5px;top:602.11px;font-size:14.5px;">$1,97,23</div>
<div class="t" style="left:671.5px;width:85.5px;top:602.11px;font-size:14.5px;">144.25</div>
<div class="t" style="left:865px;width:56px;top:601.28px;font-size:17px;letter-spacing:0.8px">Yos</div>
<div class="t" style="left:925px;width:75px;top:601.28px;font-size:17px;letter-spacing:0.3px">Is</div>
<div class="t" style="left:1020px;width:110px;top:601.28px;font-size:17px;">12,1020</div>
<div class="t" style="left:1122.5px;width:77.0px;top:601.45px;font-size:16.5px;">84.16</div>
<div class="t" style="left:1197.5px;width:119.5px;top:601.61px;font-size:16px;">1.5</div>
<div class="t" style="left:1411px;width:107px;top:601.45px;font-size:16.5px;">$&#8201;175</div>
<div class="blk" style="left:472px;top:594.7px;width:112px;height:31.80px;background:#dc8a8c;color:#fff;line-height:31.80px;overflow:hidden;"><span style="position:relative;top:1.2px">61,68</span></div>
<div class="blk" style="left:758px;top:594.7px;width:106.5px;height:31.80px;background:#c7c7c7;color:#fff;line-height:31.80px;overflow:hidden;"><span style="position:relative;top:1.2px">62,15)</span></div>
<div class="blk" style="left:1308.5px;top:594.7px;width:102.5px;height:31.80px;background:#f8a84e;color:#fff;line-height:31.80px;overflow:hidden;"><span style="position:relative;top:1.2px">1,197)</span></div>
<div class="a" style="left:35.5px;top:634.95px;width:28px;height:28px"><svg width="28" height="28" viewBox="0 0 28 28"><rect x="3.5" y="2.5" width="21" height="23" rx="1" fill="#e9e9e9" stroke="#cccccc"/><rect x="4" y="23" width="20" height="2" fill="#d0d0d0"/><path d="M8.5 13.5 l4 4 L20.5 9" fill="none" stroke="#4d7ecb" stroke-width="2"/><circle cx="20.5" cy="22" r="2.6" fill="#dfe8f6" stroke="#6f8fcc" stroke-width="1"/></svg></div>
<div class="t nm" style="left:75px;width:385px;top:639.73px;font-size:17px;letter-spacing:-0.7px">Stlut_Cheancer_Giun</div>
<div class="t" style="left:584.5px;width:86.5px;top:640.56px;font-size:14.5px;">$6.75 in</div>
<div class="t" style="left:671.5px;width:85.5px;top:640.56px;font-size:14.5px;">164.77</div>
<div class="t" style="left:865px;width:56px;top:639.73px;font-size:17px;letter-spacing:0.8px">Yos</div>
<div class="t" style="left:925px;width:75px;top:639.73px;font-size:17px;letter-spacing:0.3px">Is</div>
<div class="t" style="left:1020px;width:110px;top:639.73px;font-size:17px;">15,1075</div>
<div class="t" style="left:1122.5px;width:77.0px;top:639.90px;font-size:16.5px;">106,840</div>
<div class="t" style="left:1197.5px;width:119.5px;top:640.06px;font-size:16px;">1.2</div>
<div class="t" style="left:1411px;width:107px;top:639.90px;font-size:16.5px;">$&#8201;576</div>
<div class="blk" style="left:472px;top:633.7px;width:112px;height:31.00px;background:#c7c7c7;color:#fff;line-height:31.00px;overflow:hidden;"><span style="position:relative;top:1.2px">1,643,000</span></div>
<div class="blk" style="left:758px;top:633.7px;width:106.5px;height:31.00px;background:#c7c7c7;color:#fff;line-height:31.00px;overflow:hidden;"><span style="position:relative;top:1.2px">17,61)</span></div>
<div class="blk" style="left:1308.5px;top:633.7px;width:102.5px;height:31.00px;background:#f8a84e;color:#fff;line-height:31.00px;overflow:hidden;"><span style="position:relative;top:1.2px">18,67)</span></div>
<div class="a" style="left:35.5px;top:673.70px;width:28px;height:28px"><svg width="28" height="28" viewBox="0 0 28 28"><rect x="3.5" y="2.5" width="21" height="23" rx="1" fill="#e9e9e9" stroke="#cccccc"/><rect x="4" y="23" width="20" height="2" fill="#d0d0d0"/><path d="M8.5 13.5 l4 4 L20.5 9" fill="none" stroke="#4d7ecb" stroke-width="2"/></svg></div>
<div class="t nm" style="left:75px;width:385px;top:678.48px;font-size:17px;letter-spacing:-0.447px">Stlute_Prence_Comran</div>
<div class="t" style="left:584.5px;width:86.5px;top:679.31px;font-size:14.5px;">$4.38.76</div>
<div class="t" style="left:671.5px;width:85.5px;top:679.31px;font-size:14.5px;">$14.76</div>
<div class="t" style="left:865px;width:56px;top:678.48px;font-size:17px;letter-spacing:0.8px">Yos</div>
<div class="t" style="left:925px;width:75px;top:678.48px;font-size:17px;letter-spacing:0.3px">Is</div>
<div class="t" style="left:1020px;width:110px;top:678.48px;font-size:17px;">$2,1550</div>
<div class="t" style="left:1122.5px;width:77.0px;top:678.65px;font-size:16.5px;">81.30</div>
<div class="t" style="left:1197.5px;width:119.5px;top:678.81px;font-size:16px;">1.4</div>
<div class="t" style="left:1411px;width:107px;top:678.65px;font-size:16.5px;">$&#8201;176</div>
<div class="blk" style="left:472px;top:672.8px;width:112px;height:31.30px;background:#dc8a8c;color:#fff;line-height:31.30px;overflow:hidden;"><span style="position:relative;top:1.2px">(74,17)</span></div>
<div class="blk" style="left:758px;top:672.8px;width:106.5px;height:31.30px;background:#c7c7c7;color:#fff;line-height:31.30px;overflow:hidden;"><span style="position:relative;top:1.2px">51,721</span></div>
<div class="blk" style="left:1308.5px;top:672.8px;width:102.5px;height:31.30px;background:#f8a84e;color:#111;line-height:31.30px;overflow:hidden;font-weight:normal;-webkit-text-stroke:0.45px #111;"><span style="position:relative;top:1.2px">0,575)</span></div>
<div class="a" style="left:35.5px;top:712.60px;width:28px;height:28px"><svg width="28" height="28" viewBox="0 0 28 28"><rect x="3.5" y="2.5" width="21" height="23" rx="1" fill="#e9e9e9" stroke="#cccccc"/><rect x="4" y="23" width="20" height="2" fill="#d0d0d0"/><path d="M8.5 13.5 l4 4 L20.5 9" fill="none" stroke="#4d7ecb" stroke-width="2"/></svg></div>
<div class="t nm" style="left:75px;width:385px;top:717.38px;font-size:17px;letter-spacing:0.024px">Stluts_Prencer_cormote</div>
<div class="t" style="left:584.5px;width:86.5px;top:718.21px;font-size:14.5px;">$6.87 in</div>
<div class="t" style="left:671.5px;width:85.5px;top:718.21px;font-size:14.5px;">41.1</div>
<div class="t" style="left:865px;width:56px;top:717.38px;font-size:17px;letter-spacing:0.8px">Yos</div>
<div class="t" style="left:925px;width:75px;top:717.38px;font-size:17px;letter-spacing:0.3px">is</div>
<div class="t" style="left:1020px;width:110px;top:717.38px;font-size:17px;">$1,7070</div>
<div class="t" style="left:1122.5px;width:77.0px;top:717.55px;font-size:16.5px;">80,75</div>
<div class="t" style="left:1197.5px;width:119.5px;top:717.71px;font-size:16px;">1.1</div>
<div class="t" style="left:1411px;width:107px;top:717.55px;font-size:16.5px;">$&#8201;105</div>
<div class="blk" style="left:472px;top:711.4px;width:112px;height:31.00px;background:#dc8a8c;color:#fff;line-height:31.00px;overflow:hidden;"><span style="position:relative;top:1.2px">6170 )</span></div>
<div class="blk" style="left:758px;top:711.4px;width:106.5px;height:31.00px;background:#c7c7c7;color:#fff;line-height:31.00px;overflow:hidden;"><span style="position:relative;top:1.2px">85,51)</span></div>
<div class="blk" style="left:1308.5px;top:711.4px;width:102.5px;height:31.00px;background:#f8a84e;color:#111;line-height:31.00px;overflow:hidden;font-weight:normal;-webkit-text-stroke:0.45px #111;"><span style="position:relative;top:1.2px">1,174)</span></div>
<div class="a" style="left:35.5px;top:751.50px;width:28px;height:28px"><svg width="28" height="28" viewBox="0 0 28 28"><rect x="3.5" y="2.5" width="21" height="23" rx="1" fill="#e9e9e9" stroke="#cccccc"/><rect x="4" y="23" width="20" height="2" fill="#d0d0d0"/><path d="M8.5 13.5 l4 4 L20.5 9" fill="none" stroke="#4d7ecb" stroke-width="2"/></svg></div>
<div class="t nm" style="left:75px;width:385px;top:756.28px;font-size:17px;letter-spacing:-0.227px">Rage_Part Conmer</div>
<div class="t" style="left:584.5px;width:86.5px;top:757.11px;font-size:14.5px;">$6.57 in</div>
<div class="t" style="left:671.5px;width:85.5px;top:757.11px;font-size:14.5px;">$28.76</div>
<div class="t" style="left:865px;width:56px;top:756.28px;font-size:17px;letter-spacing:0.8px">Yos</div>
<div class="t" style="left:925px;width:75px;top:756.28px;font-size:17px;letter-spacing:0.3px">is</div>
<div class="t" style="left:1020px;width:110px;top:756.28px;font-size:17px;">13,1770</div>
<div class="t" style="left:1122.5px;width:77.0px;top:756.45px;font-size:16.5px;">84.15</div>
<div class="t" style="left:1197.5px;width:119.5px;top:756.61px;font-size:16px;">1.5</div>
<div class="t" style="left:1411px;width:107px;top:756.45px;font-size:16.5px;">$&#8201;176</div>
<div class="blk" style="left:472px;top:749.3px;width:112px;height:31.40px;background:#898a8b;color:#fff;line-height:31.40px;overflow:hidden;"><span style="position:relative;top:1.2px">(1,57)</span></div>
<div class="blk" style="left:758px;top:749.3px;width:106.5px;height:31.40px;background:#dc8a8c;color:#fff;line-height:31.40px;overflow:hidden;"><span style="position:relative;top:1.2px">78,41)</span></div>
<div class="blk" style="left:1308.5px;top:749.3px;width:102.5px;height:31.40px;background:#898a8b;color:#fff;line-height:31.40px;overflow:hidden;"><span style="position:relative;top:1.2px">1,776)</span></div>
<div class="a" style="left:35.5px;top:789.75px;width:28px;height:28px"><svg width="28" height="28" viewBox="0 0 28 28"><rect x="3.5" y="2.5" width="21" height="23" rx="1" fill="#e9e9e9" stroke="#cccccc"/><rect x="4" y="23" width="20" height="2" fill="#d0d0d0"/><path d="M8.5 13.5 l4 4 L20.5 9" fill="none" stroke="#4d7ecb" stroke-width="2"/></svg></div>
<div class="t nm" style="left:75px;width:385px;top:794.53px;font-size:17px;letter-spacing:-0.662px">Stluts_Prences_Conncan</div>
<div class="t" style="left:584.5px;width:86.5px;top:795.36px;font-size:14.5px;">$6.91.70</div>
<div class="t" style="left:671.5px;width:85.5px;top:795.36px;font-size:14.5px;">$64.71</div>
<div class="t" style="left:865px;width:56px;top:794.53px;font-size:17px;letter-spacing:0.8px">Yos</div>
<div class="t" style="left:925px;width:75px;top:794.53px;font-size:17px;letter-spacing:0.3px">is</div>
<div class="t" style="left:1020px;width:110px;top:794.53px;font-size:17px;">10,2020</div>
<div class="t" style="left:1122.5px;width:77.0px;top:794.70px;font-size:16.5px;">84.10</div>
<div class="t" style="left:1197.5px;width:119.5px;top:794.86px;font-size:16px;">1.5</div>
<div class="t" style="left:1411px;width:107px;top:794.70px;font-size:16.5px;">$&#8201;175</div>
<div class="blk" style="left:472px;top:788px;width:112px;height:32.40px;background:#61db68;color:#fff;line-height:32.40px;overflow:hidden;"><span style="position:relative;top:1.2px">(55.9)</span></div>
<div class="blk" style="left:758px;top:788px;width:106.5px;height:32.40px;background:#dc8a8c;color:#fff;line-height:32.40px;overflow:hidden;"><span style="position:relative;top:1.2px">56,51)</span></div>
<div class="blk" style="left:1308.5px;top:788px;width:102.5px;height:32.40px;background:#f8a84e;color:#fff;line-height:32.40px;overflow:hidden;"><span style="position:relative;top:1.2px">5,171)</span></div>
</body></html>
